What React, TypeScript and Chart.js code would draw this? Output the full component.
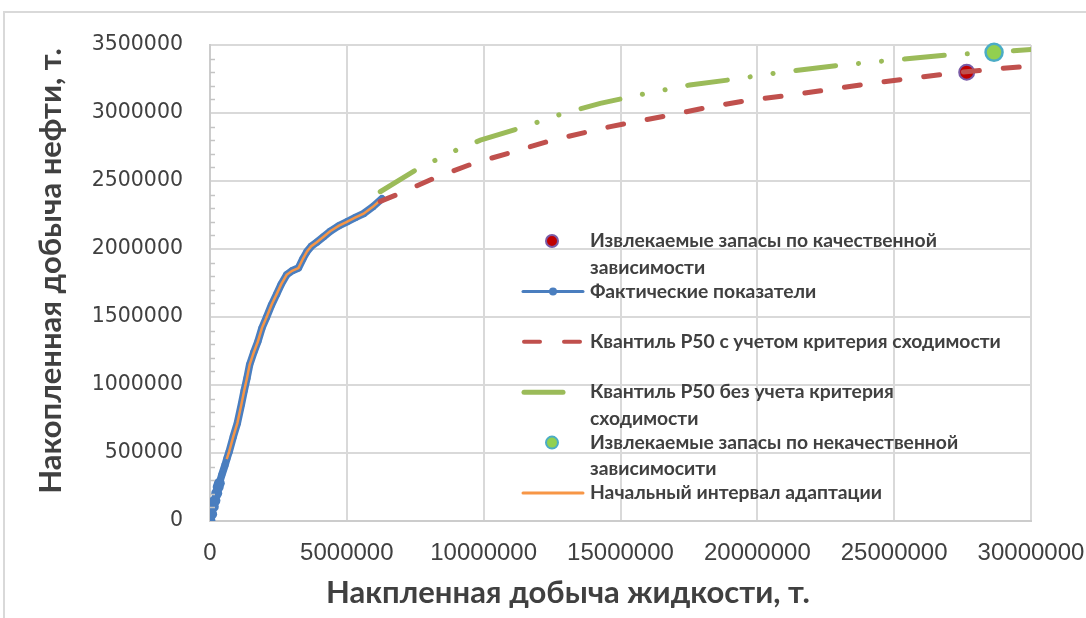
import React, { useEffect, useRef } from 'react';
import { Chart, registerables } from 'chart.js';

Chart.register(...registerables);

// Axis ticks
const xTicks = [0, 5000000, 10000000, 15000000, 20000000, 25000000, 30000000];
const xTickLabels = ['0', '5000000', '10000000', '15000000', '20000000', '25000000', '30000000'];
const yTicks = [0, 500000, 1000000, 1500000, 2000000, 2500000, 3000000, 3500000];
const yTickLabels = ['0', '500000', '1000000', '1500000', '2000000', '2500000', '3000000', '3500000'];

const xAxisTitle = 'Накпленная добыча жидкости, т.';
const yAxisTitle = 'Накопленная добыча нефти, т.';

// Фактические показатели
const factX = [0, 60000, 121000, 180000, 245000, 300000, 340000, 430000, 550000, 620000, 700000, 850000, 1000000, 1150000, 1250000, 1350000, 1450000, 1600000, 1750000, 1900000, 2070000, 2250000, 2440000, 2600000, 2800000, 3000000, 3230000, 3400000, 3540000, 3700000, 3900000, 4150000, 4390000, 4700000, 5000000, 5300000, 5610000, 5950000, 6280000];
const factY = [0, 50000, 105000, 150000, 204000, 250000, 277000, 338000, 412000, 460000, 510000, 620000, 720000, 860000, 960000, 1050000, 1150000, 1240000, 1320000, 1420000, 1500000, 1590000, 1670000, 1740000, 1810000, 1840000, 1860000, 1930000, 1980000, 2020000, 2050000, 2090000, 2130000, 2170000, 2200000, 2230000, 2260000, 2310000, 2370000];

// Начальный интервал адаптации
const adaptX = [610000, 700000, 850000, 1000000, 1150000, 1250000, 1350000, 1450000, 1600000, 1750000, 1900000, 2070000, 2250000, 2440000, 2600000, 2800000, 3000000, 3230000, 3400000, 3540000, 3700000, 3900000, 4150000, 4390000, 4700000, 5000000, 5300000, 5610000, 5950000, 6200000];
const adaptY = [455000, 510000, 620000, 720000, 860000, 960000, 1050000, 1150000, 1240000, 1320000, 1420000, 1500000, 1590000, 1670000, 1740000, 1810000, 1840000, 1860000, 1930000, 1980000, 2020000, 2050000, 2090000, 2130000, 2170000, 2200000, 2230000, 2260000, 2310000, 2355000];

// Квантиль P50 с учетом критерия сходимости
const p50WithX = [6220000, 6950000, 8290000, 9630000, 11090000, 12500000, 14630000, 16820000, 18290000, 19750000, 21210000, 22680000, 24140000, 25600000, 27070000, 28530000, 30000000];
const p50WithY = [2350000, 2410000, 2530000, 2630000, 2715000, 2800000, 2900000, 2985000, 3046000, 3096000, 3132000, 3174000, 3218000, 3255000, 3292000, 3321000, 3346000];

// Квантиль P50 без учета критерия сходимости
const p50WithoutX = [6220000, 7620000, 9080000, 9880000, 11500000, 12800000, 14260000, 15970000, 17530000, 19140000, 20750000, 23100000, 24730000, 27070000, 28650000, 30050000];
const p50WithoutY = [2421000, 2593000, 2735000, 2800000, 2900000, 2990000, 3071000, 3145000, 3206000, 3248000, 3296000, 3353000, 3385000, 3429000, 3446000, 3468000];

// Извлекаемые запасы
const reservesGoodX = [27650000];
const reservesGoodY = [3300000];
const reservesPoorX = [28650000];
const reservesPoorY = [3446000];

const seriesNames = [
  'Извлекаемые запасы по качественной зависимости',
  'Фактические показатели',
  'Квантиль Р50 с учетом критерия сходимости',
  'Квантиль Р50 без учета критерия сходимости',
  'Извлекаемые запасы по некачественной зависимосити',
  'Начальный интервал адаптации',
];
// legend lines as wrapped in the legend box
const legendLines = [
  ['Извлекаемые запасы по качественной', 'зависимости'],
  ['Фактические показатели'],
  ['Квантиль Р50 с учетом критерия сходимости'],
  ['Квантиль Р50 без учета критерия', 'сходимости'],
  ['Извлекаемые запасы по некачественной', 'зависимосити'],
  ['Начальный интервал адаптации'],
];

const zip = (xs: number[], ys: number[]) => xs.map((x, i) => ({ x, y: ys[i] }));

const TEXT = '#404040';
const GRID = '#d9d9d9';
const TITLE_FONT = 'bold 31px Lato, "Open Sans", sans-serif';
const LEGEND_FONT = 'bold 19.3px Lato, "Open Sans", sans-serif';

const framePlugin = {
  id: 'frame',
  beforeDraw(chart: any) {
    const ctx = chart.ctx;
    ctx.save();
    ctx.fillStyle = '#ffffff';
    ctx.fillRect(0, 0, chart.width, chart.height);
    ctx.strokeStyle = GRID;
    ctx.lineWidth = 2;
    ctx.beginPath();
    ctx.moveTo(4, chart.height);
    ctx.lineTo(4, 12);
    ctx.lineTo(chart.width, 12);
    ctx.stroke();
    ctx.restore();
  },
};

const minorTicksPlugin = {
  id: 'minorTicks',
  afterDatasetsDraw(chart: any) {
    const ctx = chart.ctx;
    const y = chart.scales.y;
    const left = chart.chartArea.left;
    ctx.save();
    ctx.strokeStyle = '#c4c4c4';
    ctx.lineWidth = 1.5;
    for (let v = 100000; v < 3500000; v += 100000) {
      if (v % 500000 === 0) continue;
      const py = Math.round(y.getPixelForValue(v)) + 0.5;
      ctx.beginPath();
      ctx.moveTo(left, py);
      ctx.lineTo(left + 5, py);
      ctx.stroke();
    }
    ctx.restore();
  },
};

const titlesPlugin = {
  id: 'axisTitles',
  afterDraw(chart: any) {
    const ctx = chart.ctx;
    ctx.save();
    ctx.fillStyle = TEXT;
    ctx.font = TITLE_FONT;
    ctx.textAlign = 'center';
    ctx.textBaseline = 'middle';
    ctx.fillText(xAxisTitle, 568, 593);
    ctx.translate(51, 271);
    ctx.rotate(-Math.PI / 2);
    ctx.fillText(yAxisTitle, 0, 0);
    ctx.restore();
  },
};

const legendPlugin = {
  id: 'boxLegend',
  afterDraw(chart: any) {
    const ctx = chart.ctx;
    const sets = chart.data.datasets;
    const symX = 552;
    const textX = 590;
    ctx.save();
    ctx.font = LEGEND_FONT;
    ctx.textBaseline = 'middle';
    ctx.textAlign = 'left';
    legendLines.forEach((lines, row) => {
      const ds = sets.find((d: any) => d.legendRow === row);
      const y = 241 + row * 50.4;
      if (ds) {
        if (!ds.showLine) {
          ctx.beginPath();
          ctx.arc(symX, y, 6, 0, Math.PI * 2);
          ctx.fillStyle = ds.pointBackgroundColor;
          ctx.fill();
          ctx.lineWidth = 2;
          ctx.strokeStyle = ds.pointBorderColor;
          ctx.stroke();
        } else {
          ctx.beginPath();
          ctx.setLineDash(ds.borderDash || []);
          ctx.lineCap = 'round';
          ctx.lineWidth = ds.legendLineWidth;
          ctx.strokeStyle = ds.borderColor;
          const x0 = ds.borderDash ? 524 : 523;
          const x1 = ds.borderDash ? (ds.borderDash.length > 2 ? 563 : 580) : 583;
          ctx.moveTo(x0, y);
          ctx.lineTo(x1, y);
          ctx.stroke();
          ctx.setLineDash([]);
          if (ds.legendDot) {
            ctx.beginPath();
            ctx.arc(symX + 1, y, 4, 0, Math.PI * 2);
            ctx.fillStyle = ds.borderColor;
            ctx.fill();
          }
        }
      }
      ctx.fillStyle = TEXT;
      lines.forEach((t, k) => ctx.fillText(t, textX, y + k * 26.5));
    });
    ctx.restore();
  },
};

export default function App() {
  const ref = useRef<HTMLCanvasElement>(null);

  useEffect(() => {
    document.body.style.margin = '0';
    const chart = new Chart(ref.current as HTMLCanvasElement, {
      type: 'scatter',
      data: {
        datasets: [
          {
            label: seriesNames[2],
            legendRow: 2,
            data: zip(p50WithX, p50WithY),
            showLine: true,
            borderColor: '#c0504d',
            borderWidth: 5,
            borderDash: [16, 24],
            borderCapStyle: 'round',
            legendLineWidth: 4,
            pointRadius: 0,
            order: 0,
          },
          {
            label: seriesNames[0],
            legendRow: 0,
            data: zip(reservesGoodX, reservesGoodY),
            showLine: false,
            pointRadius: 7.5,
            pointBackgroundColor: '#c00000',
            pointBorderColor: '#7a5ba6',
            pointBorderWidth: 2,
            clip: false,
            order: 1,
          },
          {
            label: seriesNames[4],
            legendRow: 4,
            data: zip(reservesPoorX, reservesPoorY),
            showLine: false,
            pointRadius: 8.5,
            pointBackgroundColor: '#92d050',
            pointBorderColor: '#4bacc6',
            pointBorderWidth: 2.5,
            clip: false,
            order: 2,
          },
          {
            label: seriesNames[5],
            legendRow: 5,
            data: zip(adaptX, adaptY),
            showLine: true,
            borderColor: '#f79646',
            borderWidth: 2.5,
            legendLineWidth: 3,
            pointRadius: 0,
            order: 3,
          },
          {
            label: seriesNames[1],
            legendRow: 1,
            data: zip(factX, factY),
            showLine: true,
            borderColor: '#4a7ebf',
            borderWidth: 7.5,
            borderCapStyle: 'round',
            borderJoinStyle: 'round',
            legendLineWidth: 3,
            legendDot: true,
            pointRadius: (c: any) => (c.dataIndex < 7 ? 5.5 : 3.5),
            pointBorderWidth: 0,
            pointBackgroundColor: '#4a7ebf',
            order: 4,
          },
          {
            label: seriesNames[3],
            legendRow: 3,
            data: zip(p50WithoutX, p50WithoutY),
            showLine: true,
            borderColor: '#9bbb59',
            borderWidth: 5,
            borderDash: [40, 23, 0.1, 23, 0.1, 23],
            borderCapStyle: 'round',
            legendLineWidth: 5,
            pointRadius: 0,
            order: 5,
          },
        ] as any,
      },
      options: {
        animation: false,
        responsive: false,
        devicePixelRatio: 1,
        layout: { padding: { left: 0, top: 45, right: 55, bottom: 0 } },
        plugins: { legend: { display: false }, tooltip: { enabled: false } },
        scales: {
          x: {
            type: 'linear',
            min: 0,
            max: 30000000,
            afterBuildTicks: (s: any) => {
              s.ticks = xTicks.map((v) => ({ value: v }));
            },
            afterFit: (s: any) => {
              s.height = 97;
              s.paddingLeft = 0;
              s.paddingRight = 0;
            },
            ticks: {
              autoSkip: false,
              maxRotation: 0,
              padding: 20,
              color: TEXT,
              font: { family: '"Liberation Sans", Arial, sans-serif', size: 24, lineHeight: 1 },
              callback: (_v: any, i: number) => xTickLabels[i],
            },
            grid: { color: GRID, lineWidth: 2, drawTicks: false },
            border: { color: '#cccccc', width: 2 },
          },
          y: {
            type: 'linear',
            min: 0,
            max: 3500000,
            afterBuildTicks: (s: any) => {
              s.ticks = yTicks.map((v) => ({ value: v }));
            },
            afterFit: (s: any) => {
              s.width = 210;
              s.paddingTop = 0;
              s.paddingBottom = 0;
            },
            ticks: {
              padding: 27,
              color: TEXT,
              font: { family: '"DejaVu Sans", sans-serif', size: 20.5, lineHeight: 1 },
              callback: (_v: any, i: number) => yTickLabels[i],
            },
            grid: { color: GRID, lineWidth: 2, drawTicks: false },
            border: { color: '#cccccc', width: 2 },
          },
        },
      },
      plugins: [framePlugin, minorTicksPlugin, titlesPlugin, legendPlugin],
    } as any);
    return () => chart.destroy();
  }, []);

  return (
    <div style={{ width: 1086, height: 618, background: '#ffffff' }}>
      <canvas ref={ref} width={1086} height={618} style={{ display: 'block' }} />
    </div>
  );
}
